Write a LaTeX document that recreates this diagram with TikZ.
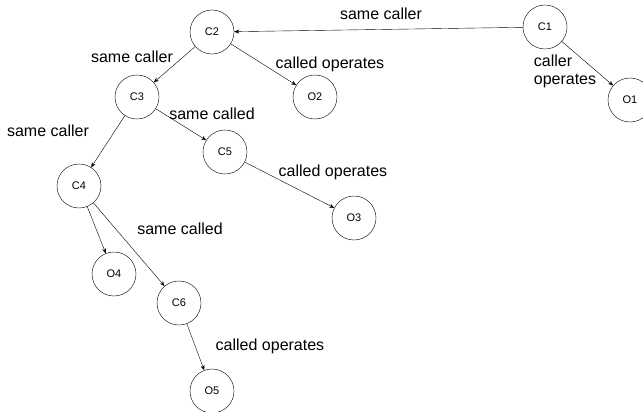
\documentclass[tikz,border=0pt]{standalone}
\usepackage{fontspec}
\setmainfont{Liberation Sans}
\usetikzlibrary{arrows.meta}

\begin{document}
\begin{tikzpicture}[x=1pt, y=-1pt]
    \tikzstyle{state} = [circle, draw, thin, inner sep=0pt, minimum size=44pt, font=\fontsize{11}{13}\selectfont]
    \tikzstyle{rel} = [font=\fontsize{16}{18}\selectfont, inner sep=1pt]
    \tikzstyle{arr} = [draw, thin, -{Stealth[length=5pt, width=4pt]}]
    \useasboundingbox (0,0) rectangle (643,412);
    % call nodes and operate nodes
    \node[state] (c1) at (545,27) {C1};
    \node[state] (c2) at (212,32) {C2};
    \node[state] (c3) at (137,97) {C3};
    \node[state] (c4) at (79,186) {C4};
    \node[state] (c5) at (225,152) {C5};
    \node[state] (c6) at (179,303) {C6};
    \node[state] (o1) at (630,100) {O1};
    \node[state] (o2) at (315,97) {O2};
    \node[state] (o3) at (354,218) {O3};
    \node[state] (o4) at (114,274) {O4};
    \node[state] (o5) at (212,391) {O5};
    % relations
    \draw[arr] (c1) -- (c2);
    \draw[arr] (c1) -- (o1);
    \draw[arr] (c2) -- (c3);
    \draw[arr] (c2) -- (o2);
    \draw[arr] (c3) -- (c4);
    \draw[arr] (c3) -- (c5);
    \draw[arr] (c5) -- (o3);
    \draw[arr] (c4) -- (o4);
    \draw[arr] (c4) -- (c6);
    \draw[arr] (c6) -- (o5);
    % labels
    \node[rel] (l1) at (381,14) {same caller};
    \node[rel, align=left] (l2) at (565,71) {caller\\operates};
    \node[rel] (l3) at (132,57) {same caller};
    \node[rel] (l4) at (330,64) {called operates};
    \node[rel] (l5) at (212,114) {same called};
    \node[rel] (l6) at (48,131) {same caller};
    \node[rel] (l7) at (333,172) {called operates};
    \node[rel] (l8) at (180,229) {same called};
    \node[rel] (l9) at (270,346) {called operates};
\end{tikzpicture}
\end{document}
